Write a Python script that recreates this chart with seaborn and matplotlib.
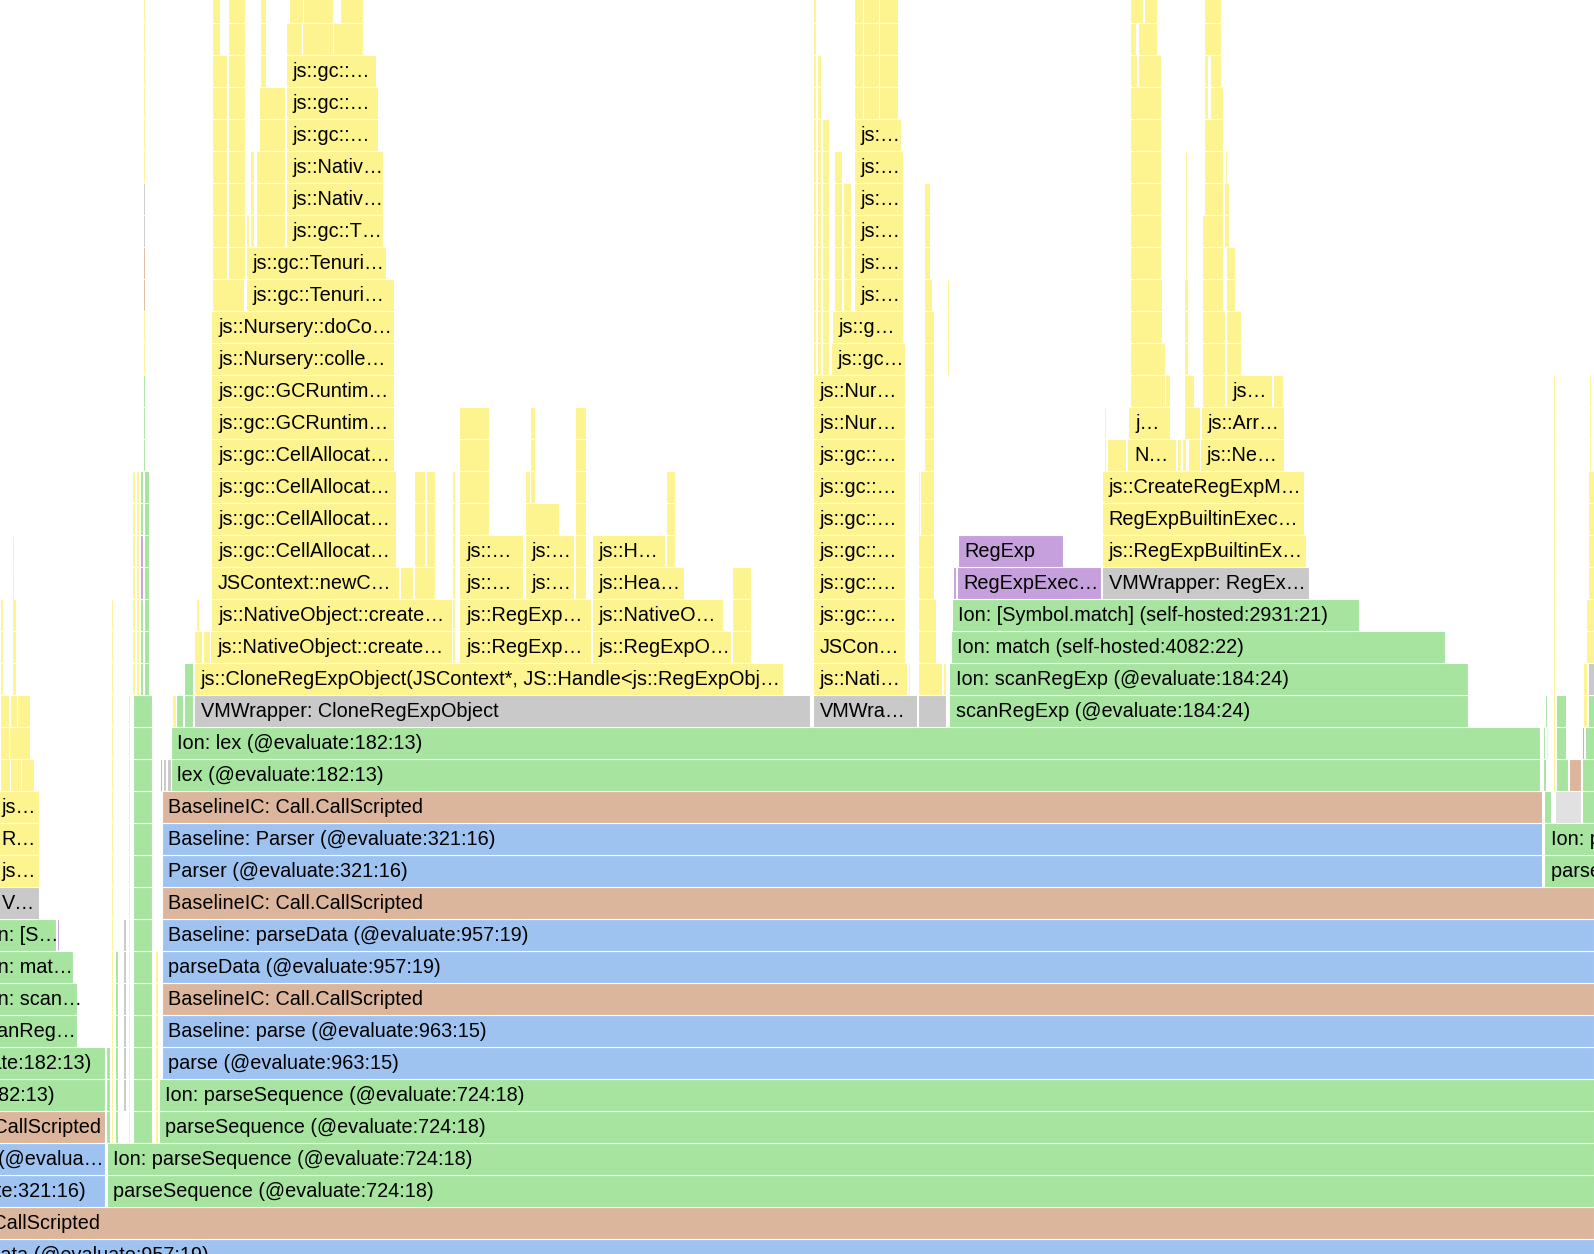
import pandas as pd
import matplotlib
matplotlib.use("Agg")
import matplotlib.pyplot as plt
import seaborn as sns

# Flame graph: time axis is in sample units (0..1568 visible), level = stack depth
# Labelled frames (one line per stack level)
frame_level = [
    0,
    1,
    2, 2,
    3, 3,
    4, 4,
    5, 5,
    6, 6,
    7, 7,
    8, 8,
    9, 9,
    10, 10,
    11, 11,
    12, 12, 12,
    13, 13, 13,
    14, 14,
    15,
    16,
    17, 17, 17,
    18, 18, 18,
    19, 19, 19, 19, 19,
    20, 20, 20, 20, 20,
    21, 21, 21, 21, 21, 21, 21,
    22, 22, 22, 22, 22, 22, 22,
    23, 23, 23,
    24, 24, 24,
    25, 25, 25, 25,
    26, 26, 26, 26,
    27, 27, 27,
    28, 28,
    29, 29,
    30, 30,
    31, 31,
    32, 32,
    33, 33,
    34, 34,
    35, 35,
    36,
    37,
]
frame_start = [
    -69,
    -159,
    -158, 105,
    -158, 105,
    -158, 156,
    -156, 156,
    -158, 159,
    -29, 159,
    -25, 159,
    -25, 159,
    -25, 159,
    -5, 159,
    -5, 159, 1519,
    -5, 159, 1519,
    -5, 159,
    168,
    168,
    191, 800, 934,
    191, 800, 934,
    207, 452, 582, 800, 935,
    208, 452, 582, 800, 936,
    208, 452, 516, 582, 800, 941, 1084,
    208, 452, 516, 582, 800, 942, 1084,
    208, 800, 1084,
    208, 800, 1084,
    208, 800, 1109, 1180,
    208, 800, 1110, 1181,
    208, 800, 1206,
    208, 817,
    208, 818,
    242, 840,
    242, 840,
    281, 840,
    281, 840,
    281, 840,
    281, 840,
    281,
    281,
]
frame_end = [
    1568,
    1568,
    103, 1568,
    103, 1568,
    103, 1568,
    103, 1568,
    103, 1568,
    76, 1568,
    76, 1568,
    72, 1568,
    55, 1568,
    38, 1568,
    38, 1517, 1700,
    38, 1517, 1700,
    38, 1517,
    1515,
    1515,
    797, 902, 1444,
    770, 892, 1444,
    445, 581, 719, 890, 1421,
    445, 581, 711, 890, 1337,
    392, 514, 565, 673, 890, 1083, 1288,
    390, 514, 565, 654, 890, 1046, 1285,
    390, 890, 1283,
    390, 890, 1283,
    388, 890, 1157, 1263,
    388, 890, 1151, 1263,
    388, 890, 1251,
    388, 890,
    388, 888,
    388, 888,
    380, 888,
    377, 888,
    377, 888,
    377, 888,
    372, 886,
    372,
    370,
]
frame_kind = [
    "B",
    "T",
    "B", "G",
    "B", "G",
    "T", "G",
    "G", "G",
    "G", "B",
    "G", "B",
    "G", "T",
    "G", "B",
    "G", "B",
    "S", "T",
    "Y", "B", "G",
    "Y", "B", "G",
    "Y", "T",
    "G",
    "G",
    "S", "S", "G",
    "Y", "Y", "G",
    "Y", "Y", "Y", "Y", "G",
    "Y", "Y", "Y", "Y", "G",
    "Y", "Y", "Y", "Y", "Y", "P", "S",
    "Y", "Y", "Y", "Y", "Y", "P", "Y",
    "Y", "Y", "Y",
    "Y", "Y", "Y",
    "Y", "Y", "Y", "Y",
    "Y", "Y", "Y", "Y",
    "Y", "Y", "Y",
    "Y", "Y",
    "Y", "Y",
    "Y", "Y",
    "Y", "Y",
    "Y", "Y",
    "Y", "Y",
    "Y", "Y",
    "Y", "Y",
    "Y",
    "Y",
]
frame_name = [
    "parseData (@evaluate:957:19)",
    "BaselineIC: Call.CallScripted",
    "Parser (@evaluate:321:16)", "parseSequence (@evaluate:724:18)",
    "Baseline: Parser (@evalua…", "Ion: parseSequence (@evaluate:724:18)",
    "BaselineIC: Call.CallScripted", "parseSequence (@evaluate:724:18)",
    "lex (@evaluate:182:13)", "Ion: parseSequence (@evaluate:724:18)",
    "Ion: lex (@evaluate:182:13)", "parse (@evaluate:963:15)",
    "scanReg…", "Baseline: parse (@evaluate:963:15)",
    "Ion: scan…", "BaselineIC: Call.CallScripted",
    "Ion: mat…", "parseData (@evaluate:957:19)",
    "Ion: [S…", "Baseline: parseData (@evaluate:957:19)",
    "V…", "BaselineIC: Call.CallScripted",
    "js…", "Parser (@evaluate:321:16)", "parseSequence (@evaluate:724:18)",
    "R…", "Baseline: Parser (@evaluate:321:16)", "Ion: parseSequence (@evaluate:724:18)",
    "js…", "BaselineIC: Call.CallScripted",
    "lex (@evaluate:182:13)",
    "Ion: lex (@evaluate:182:13)",
    "VMWrapper: CloneRegExpObject", "VMWra…", "scanRegExp (@evaluate:184:24)",
    "js::CloneRegExpObject(JSContext*, JS::Handle<js::RegExpObj…", "js::Nati…",
    "Ion: scanRegExp (@evaluate:184:24)",
    "js::NativeObject::create…", "js::RegExp…", "js::RegExpO…", "JSCon…",
    "Ion: match (self-hosted:4082:22)",
    "js::NativeObject::create…", "js::RegExp…", "js::NativeO…", "js::gc::…",
    "Ion: [Symbol.match] (self-hosted:2931:21)",
    "JSContext::newC…", "js::…", "js:…", "js::Hea…", "js::gc::…", "RegExpExec…",
    "VMWrapper: RegEx…",
    "js::gc::CellAllocat…", "js::…", "js:…", "js::H…", "js::gc::…", "RegExp",
    "js::RegExpBuiltinEx…",
    "js::gc::CellAllocat…", "js::gc::…", "RegExpBuiltinExec…",
    "js::gc::CellAllocat…", "js::gc::…", "js::CreateRegExpM…",
    "js::gc::CellAllocat…", "js::gc::…", "N…", "js::Ne…",
    "js::gc::GCRuntim…", "js::Nur…", "j…", "js::Arr…",
    "js::gc::GCRuntim…", "js::Nur…", "js…",
    "js::Nursery::colle…", "js::gc…",
    "js::Nursery::doCo…", "js::g…",
    "js::gc::Tenuri…", "js:…",
    "js::gc::Tenuri…", "js:…",
    "js::gc::T…", "js:…",
    "js::Nativ…", "js:…",
    "js::Nativ…", "js:…",
    "js::gc::…", "js:…",
    "js::gc::…",
    "js::gc::…",
]

# Unlabelled narrow frames, as runs of identical extent over levels lo..hi
col_start = [
    0, 10, 21, 0, 9, 0, 10, 17, 0, 12, 12, 56,
    104, 109, 113, 121, 126, 131, 152, 130, 134, 138, 138, 138, 142,
    141, 141, 141, 141, 141,
    157, 160, 164, 169, 173, 181, 191, 200, 193,
    393, 407, 407, 419, 445,
    209, 209, 209, 224, 242, 246, 252, 255, 256, 281, 297, 328, 284, 298, 334,
    452, 516, 516, 521, 566, 655, 720,
    800, 804, 809, 820, 829, 840, 849, 865,
    893, 903, 928, 903, 903, 903, 903, 905, 903, 909, 909, 909, 932, 937,
    1086, 1089, 1158, 1163, 1169, 1165,
    1112, 1146, 1112, 1112, 1112, 1119, 1112, 1119, 1112, 1125,
    1165, 1165, 1166,
    1182, 1182, 1184, 1184, 1190, 1190, 1184,
    1206, 1206, 1204, 1205, 1252,
    1519, 1530, 1556, 1518, 1531, 1543, 1556,
    1518, 1521, 1531, 1556, 1559, 1520, 1557, 1562,
    1562, 1560, 1562, 1563, 1528,
]
col_end = [
    10, 21, 33, 9, 30, 9, 17, 30, 3, 16, 14, 58,
    108, 111, 116, 124, 128, 150, 155, 133, 137, 141, 141, 141, 147,
    143, 143, 143, 143, 143,
    159, 163, 168, 173, 180, 190, 199, 207, 196,
    406, 428, 418, 428, 448,
    240, 223, 216, 241, 245, 250, 280, 280, 262, 297, 328, 357, 298, 328, 357,
    481, 550, 521, 526, 576, 664, 739,
    803, 808, 815, 828, 837, 849, 865, 883,
    895, 927, 931, 931, 921, 919, 905, 919, 904, 919, 917, 915, 934, 940,
    1088, 1108, 1162, 1167, 1180, 1180,
    1146, 1151, 1143, 1142, 1118, 1142, 1117, 1138, 1124, 1138,
    1175, 1169, 1168,
    1205, 1203, 1203, 1188, 1203, 1201, 1201,
    1221, 1215, 1209, 1207, 1262,
    1526, 1555, 1568, 1521, 1542, 1555, 1568,
    1520, 1523, 1540, 1558, 1568, 1522, 1561, 1568,
    1568, 1568, 1568, 1565, 1530,
]
col_lo = [
    15, 15, 15, 16, 16, 17, 17, 17, 18, 18, 21, 10,
    4, 4, 4, 5, 4, 4, 4, 18, 18, 18, 21, 23, 18,
    25, 28, 30, 32, 34,
    15, 15, 15, 17, 17, 17, 19, 19, 20,
    21, 21, 22, 22, 19,
    30, 31, 38, 31, 32, 32, 32, 35, 37, 38, 38, 38, 39, 39, 39,
    23, 23, 24, 24, 21, 22, 19,
    28, 28, 28, 30, 30, 36, 36, 36,
    18, 18, 18, 17, 19, 21, 23, 23, 25, 25, 30, 31, 28, 21,
    25, 25, 25, 25, 25, 26,
    27, 27, 29, 31, 37, 37, 38, 38, 39, 39,
    27, 28, 31,
    27, 30, 33, 36, 36, 37, 38,
    28, 30, 32, 34, 27,
    14, 14, 14, 15, 15, 15, 15,
    16, 16, 16, 16, 16, 17, 17, 17,
    18, 19, 21, 25, 15,
]
col_hi = [
    15, 15, 15, 16, 16, 17, 17, 17, 20, 20, 22, 10,
    6, 20, 9, 10, 17, 17, 9, 24, 24, 20, 22, 24, 24,
    27, 29, 31, 33, 39,
    15, 15, 15, 17, 17, 18, 19, 19, 20,
    21, 21, 24, 24, 24,
    30, 37, 39, 39, 32, 34, 34, 36, 39, 38, 38, 38, 39, 39, 39,
    26, 23, 24, 26, 26, 24, 21,
    39, 37, 35, 34, 33, 39, 39, 39,
    18, 18, 18, 17, 20, 22, 24, 24, 28, 29, 30, 33, 30, 21,
    26, 25, 25, 25, 25, 26,
    28, 27, 30, 36, 37, 37, 38, 38, 39, 39,
    27, 30, 34,
    29, 32, 35, 37, 36, 37, 39,
    29, 31, 33, 34, 27,
    14, 14, 14, 15, 15, 15, 15,
    16, 16, 17, 16, 16, 17, 18, 17,
    18, 20, 24, 27, 27,
]
col_kind = [
    "Y", "Y", "Y", "Y", "Y", "Y", "Y", "Y", "Y", "Y", "Y", "P",
    "G", "Y", "G", "S", "Y", "G", "Y", "Y", "Y", "G", "P", "G", "G",
    "G", "Y", "T", "S", "Y",
    "P", "S", "S", "Y", "G", "G", "Y", "Y", "Y",
    "Y", "Y", "Y", "Y", "Y",
    "Y", "Y", "Y", "Y", "Y", "Y", "Y", "Y", "Y", "Y", "Y", "Y", "Y", "Y", "Y",
    "Y", "Y", "Y", "Y", "Y", "Y", "Y",
    "Y", "Y", "Y", "Y", "Y", "Y", "Y", "Y",
    "Y", "Y", "Y", "S", "Y", "Y", "Y", "Y", "Y", "Y", "Y", "Y", "Y", "P",
    "Y", "Y", "Y", "Y", "Y", "Y",
    "Y", "Y", "Y", "Y", "Y", "Y", "Y", "Y", "Y", "Y",
    "Y", "Y", "Y",
    "Y", "Y", "Y", "Y", "Y", "Y", "Y",
    "Y", "Y", "Y", "Y", "Y",
    "G", "L", "G", "G", "G", "T", "G",
    "G", "Y", "G", "P", "G", "G", "Y", "G",
    "S", "Y", "Y", "Y", "Y",
]

palette = {
    "Y": "#fdf48f",  # native / C++
    "G": "#a6e4a0",  # Ion / interpreter JS
    "B": "#9ec3f1",  # Baseline
    "T": "#dcb69c",  # BaselineIC
    "S": "#c9c9c9",  # VM wrappers
    "L": "#e1e1e1",
    "P": "#c5a0dc",  # RegExp
}

frames = pd.DataFrame({"level": frame_level, "start": frame_start, "end": frame_end,
                       "kind": frame_kind, "name": frame_name})
cols = pd.DataFrame({"start": col_start, "end": col_end, "lo": col_lo,
                     "hi": col_hi, "kind": col_kind})
# expand each run into one frame per level
slivers = pd.DataFrame([
    {"level": lv, "start": r.start, "end": r.end, "kind": r.kind}
    for r in cols.itertuples() for lv in range(r.lo, r.hi + 1)
])

sns.set_theme(style="white")
plt.rcParams["font.family"] = ["Liberation Sans", "DejaVu Sans"]

fig = plt.figure(figsize=(15.94, 12.54), dpi=100)
ax = fig.add_axes([0, 0, 1, 1])

for kind, grp in slivers.groupby("kind"):
    ax.barh(grp["level"] + 0.5, grp["end"] - grp["start"], left=grp["start"], height=1.0,
            color=palette[kind], edgecolor="white", linewidth=0.8)

bars = ax.barh(frames["level"] + 0.5, frames["end"] - frames["start"], left=frames["start"],
               height=1.0, color=[palette[k] for k in frames["kind"]],
               edgecolor="white", linewidth=0.8)

for patch, row in zip(bars.patches, frames.itertuples()):
    t = ax.text(row.start + 6.5, row.level + 0.47, row.name, fontsize=14.3,
                color="black", va="center", ha="left")
    t.set_clip_path(patch)

ax.set_xlim(0, 1568)
ax.set_ylim(0.53, 39.72)
ax.axis("off")

fig.savefig("out.png", dpi=100)
